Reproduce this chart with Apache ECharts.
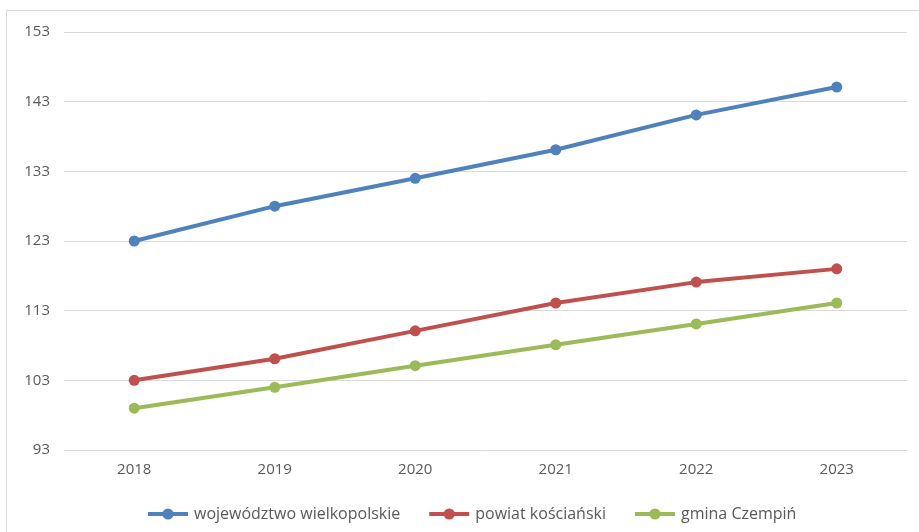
<!DOCTYPE html>
<html>
<head>
<meta charset="utf-8">
<script src="https://cdn.jsdelivr.net/npm/echarts@6/dist/echarts.min.js"></script>
<style>
html,body{margin:0;padding:0;background:#fff;}
#c{width:919px;height:532px;}
</style>
</head>
<body>
<div id="c"></div>
<script>
const categories = ['2018','2019','2020','2021','2022','2023'];
const seriesNames = ['województwo wielkopolskie','powiat kościański','gmina Czempiń'];
const wielkopolskie = [123.0, 128.0, 132.0, 136.1, 141.1, 145.1];
const koscianski = [103.0, 106.1, 110.1, 114.1, 117.1, 119.0];
const czempin = [99.0, 102.0, 105.1, 108.1, 111.1, 114.1];
const colors = ['#4F81BD','#C0504D','#9BBB59'];
const font = '"Open Sans", "Noto Sans", sans-serif';

const chart = echarts.init(document.getElementById('c'));
const mk = (name, data, color) => ({
  name, type: 'line', data,
  symbol: 'circle', symbolSize: 11,
  lineStyle: {width: 4, color},
  itemStyle: {color},
  animation: false
});
chart.setOption({
  animation: false,
  graphic: [{
    type: 'rect', shape: {x: 6.5, y: 10.5, width: 1000, height: 1000},
    style: {fill: 'none', stroke: '#d9d9d9', lineWidth: 1}, silent: true, z: -1
  }],
  grid: {left: 64, right: 12, top: 32, bottom: 82},
  xAxis: {
    type: 'category', data: categories, boundaryGap: true,
    axisLine: {show: false}, axisTick: {show: false},
    axisLabel: {color: '#595959', fontSize: 15, fontFamily: font, margin: 12}
  },
  yAxis: {
    type: 'value', min: 93, max: 153, interval: 10,
    axisLine: {show: false}, axisTick: {show: false},
    axisLabel: {color: '#595959', fontSize: 15, fontFamily: font, margin: 14},
    splitLine: {lineStyle: {color: '#d9d9d9', width: 1}}
  },
  legend: {
    bottom: 5, left: 141, itemWidth: 40, itemHeight: 14, itemGap: 27,
    lineStyle: {width: 4},
    textStyle: {color: '#595959', fontSize: 16, fontFamily: font, padding: [0, 0, 0, 1]},
    data: seriesNames
  },
  series: [
    mk(seriesNames[0], wielkopolskie, colors[0]),
    mk(seriesNames[1], koscianski, colors[1]),
    mk(seriesNames[2], czempin, colors[2])
  ]
});
</script>
</body>
</html>
